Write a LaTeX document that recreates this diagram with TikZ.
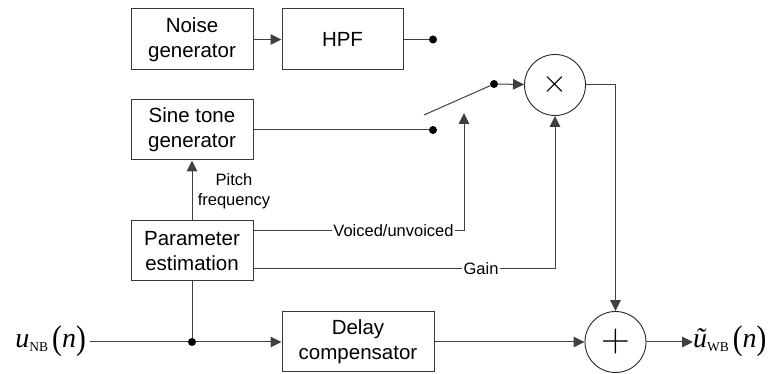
\RequirePackage{fix-cm}
\documentclass[tikz,border=0pt]{standalone}
\usepackage[no-math]{fontspec}
\setmainfont{Liberation Sans}
\newfontfamily\tnr{Liberation Serif}
\usetikzlibrary{arrows.meta}
\newcommand{\bigpar}[1]{\raisebox{-1.5pt}{\scalebox{1.05}[1.22]{#1}}}
\tikzset{
  blk/.style={draw=black!78, line width=1pt, minimum width=122pt, minimum height=61pt,
    inner sep=0pt, align=center, font=\fontsize{20.5}{25}\selectfont},
  opc/.style={draw=black!85, line width=0.9pt, circle, minimum size=61pt, inner sep=0pt},
  dotn/.style={circle, fill=black, inner sep=0pt, minimum size=8pt},
  wire/.style={draw=black!75, line width=1pt},
  arr/.style={wire, -{Triangle[length=11pt,width=10.5pt]}},
  lbl/.style={inner sep=1pt, align=center, font=\fontsize{16.5}{20}\selectfont},
  mathlbl/.style={inner sep=0pt, font=\tnr}
}
\begin{document}
\begin{tikzpicture}[x=1pt,y=-1pt]
\useasboundingbox (0,0) rectangle (772,374);
% blocks
\node[blk] (noise) at (192,39.5) {Noise\\generator};
\node[blk, minimum width=121pt] (hpf) at (342.5,39.5) {HPF};
\node[blk, minimum height=60pt] (sine) at (192,130) {Sine tone\\generator};
\node[blk, minimum height=60pt] (param) at (192,251) {Parameter\\estimation};
\node[blk, minimum width=152pt, minimum height=60pt] (delay) at (358,342) {Delay\\compensator};
% operators
\node[opc] (mult) at (555,85) {};
\node[font=\fontsize{32}{32}\selectfont, inner sep=0pt] (multsym) at (mult.center) {$\times$};
\node[opc] (add) at (615.5,342) {};
\node[font=\fontsize{40}{40}\selectfont, inner sep=0pt] (addsym) at (add.center) {$+$};
% dots
\node[dotn] (dh) at (433,39.5) {};
\node[dotn] (ds) at (433,130) {};
\node[dotn] (dp) at (494,84) {};
\node[dotn] (dj) at (192,342) {};
\coordinate (lev) at (424,115);
\coordinate (vu) at (464,113);
\coordinate (vcor) at (464,231);
\coordinate (gcor) at (555,269);
\coordinate (mcor) at (615.5,85);
% io labels
\node[mathlbl, anchor=base east] (in) at (86,348)
  {{\fontsize{28}{28}\selectfont\itshape u}{\fontsize{13.5}{14}\selectfont\raisebox{-4pt}{NB}}\hspace{4pt}{\fontsize{28}{28}\selectfont\bigpar{(}\itshape n\/\upshape\bigpar{)}}};
\node[mathlbl, anchor=base west] (out) at (693,348)
  {{\fontsize{28}{28}\selectfont\itshape ũ}{\fontsize{13.5}{14}\selectfont\raisebox{-4pt}{WB}}\hspace{4pt}{\fontsize{28}{28}\selectfont\bigpar{(}\itshape n\/\upshape\bigpar{)}}};
% labels on lines
\node[lbl] (pitch) at (234,191) {Pitch\\frequency};
\node[lbl] (vlab) at (393.5,231) {Voiced/unvoiced};
\node[lbl] (glab) at (481,269) {Gain};
% connectors
\draw[arr] (noise) -- (hpf);
\draw[wire] (hpf) -- (dh);
\draw[wire] (sine.east) -- (ds);
\draw[wire] (lev) -- (dp);
\draw[arr] (dp) -- (mult);
\draw[arr] (param) -- (sine);
\draw[wire] ([yshift=20pt]param.east) -- (vlab.west);
\draw[arr] (vlab.east) -- (vcor) -- (vu);
\draw[wire] ([yshift=-18pt]param.east) -- (glab.west);
\draw[arr] (glab.east) -- (gcor) -- (mult.south);
\draw[arr] (mult.east) -- (mcor) -- (add.north);
\draw[wire] ([xshift=4pt]in.east |- dj) -- (dj);
\draw[arr] (dj) -- (delay.west);
\draw[wire] (param.south) -- (dj);
\draw[arr] (delay.east) -- (add.west);
\draw[arr] (add.east) -- (out.west |- add.east);
\end{tikzpicture}
\end{document}
